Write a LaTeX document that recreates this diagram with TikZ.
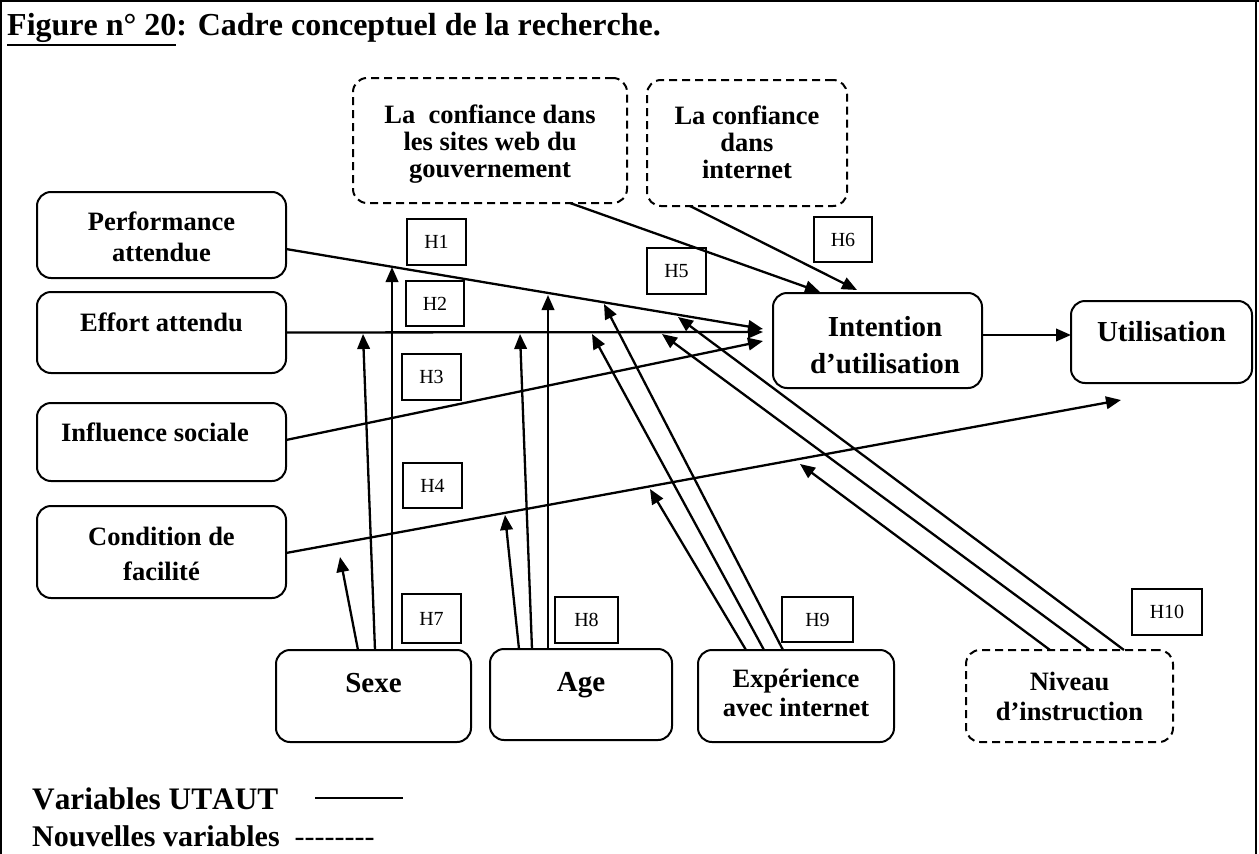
\documentclass[tikz,border=0pt]{standalone}
\usepackage{fontspec}
\setmainfont{Liberation Serif}[Kerning=Off]
\usetikzlibrary{arrows.meta}
\begin{document}
\begin{tikzpicture}[x=1pt,y=-1pt,
  box/.style={draw, line width=2pt, rounded corners=14pt, inner sep=0pt, outer sep=0pt},
  dbox/.style={box, dash pattern=on 8pt off 5pt},
  hyp/.style={draw, line width=1.1pt, inner sep=0pt, outer sep=0pt, font=\fontsize{20}{22}\selectfont},
  lbl/.style={font=\bfseries\fontsize{26.5}{29}\selectfont, align=center, inner sep=0pt},
  big/.style={font=\bfseries\fontsize{29}{37}\selectfont, align=center, inner sep=0pt},
  arr/.style={line width=2.3pt, -{Triangle[length=15pt,width=12.5pt]}},
  frame/.style={line width=2pt}
]
\useasboundingbox (0,0) rectangle (1259,854);

% outer frame
\draw[frame] (0,1) -- (1259,1);
\draw[frame] (1,0) -- (1,854);
\draw[frame] (1256,0) -- (1256,854);

% title
\node[anchor=base west, inner sep=0pt, font=\bfseries\fontsize{32}{36}\selectfont] (title) at (7,35)
  {\rlap{\rule[-11pt]{169pt}{2.5pt}}Figure n° 20: Cadre conceptuel de la recherche.};

% UTAUT variables
\node[box, minimum width=249pt, minimum height=86pt] (perf) at (161.5,235) {};
\node[lbl, text depth=0pt] (perfT) at (161.5,236.5) {Performance\\[2pt]attendue};
\node[box, minimum width=249pt, minimum height=81pt] (effort) at (161.5,332.5) {};
\node[lbl] (effortT) at (161.5,322) {Effort attendu};
\node[box, minimum width=249pt, minimum height=78pt] (influ) at (161.5,442) {};
\node[lbl] (influT) at (155,432) {Influence sociale};
\node[box, minimum width=249pt, minimum height=92pt] (cond) at (161.5,552) {};
\node[lbl] (condT) at (161.5,553.5) {Condition de\\[6pt]facilité};

\node[box, minimum width=195pt, minimum height=92pt] (sexe) at (373.5,696) {};
\node[big] (sexeT) at (373.5,683) {Sexe};
\node[box, minimum width=182pt, minimum height=91pt] (age) at (581,694.5) {};
\node[big] (ageT) at (581,685) {Age};
\node[box, minimum width=196pt, minimum height=92pt] (exp) at (796,696) {};
\node[lbl] (expT) at (796,693) {Expérience\\avec internet};

\node[box, minimum width=209pt, minimum height=95pt] (intent) at (877.5,340.5) {};
\node[big] (intentT) at (885,345) {Intention\\d’utilisation};
\node[box, minimum width=181pt, minimum height=82pt] (util) at (1161.5,342) {};
\node[big] (utilT) at (1161.5,332) {Utilisation};

% new variables
\node[dbox, minimum width=274pt, minimum height=125pt] (csites) at (490,140.5) {};
\node[lbl, font=\bfseries\fontsize{26.5}{27}\selectfont] (csitesT) at (490,144)
  {La\ \ confiance dans\\les sites web du\\gouvernement};
\node[dbox, minimum width=200pt, minimum height=126pt] (cint) at (747,143) {};
\node[lbl, font=\bfseries\fontsize{26.5}{27}\selectfont] (cintT) at (747,142)
  {La confiance\\dans\\internet};
\node[dbox, minimum width=207pt, minimum height=92pt] (niv) at (1069.5,696) {};
\node[lbl, font=\bfseries\fontsize{26.5}{30}\selectfont] (nivT) at (1069.5,696) {Niveau\\d’instruction};

% hypotheses
\node[hyp, minimum width=59pt, minimum height=46pt] (h1) at (436.5,242) {H1};
\node[hyp, minimum width=58pt, minimum height=45pt] (h2) at (435,303.5) {H2};
\node[hyp, minimum width=59pt, minimum height=46pt] (h3) at (431.5,377) {H3};
\node[hyp, minimum width=59pt, minimum height=45pt] (h4) at (432.5,485.5) {H4};
\node[hyp, minimum width=59pt, minimum height=46pt] (h5) at (676.5,271) {H5};
\node[hyp, minimum width=58pt, minimum height=45pt] (h6) at (843,239.5) {H6};
\node[hyp, minimum width=59pt, minimum height=49pt] (h7) at (431.5,618.5) {H7};
\node[hyp, minimum width=63pt, minimum height=46pt] (h8) at (586.5,620) {H8};
\node[hyp, minimum width=71pt, minimum height=45pt] (h9) at (817.5,619.5) {H9};
\node[hyp, minimum width=70pt, minimum height=46pt] (h10) at (1167,612) {H10};

% arrow end points
\coordinate (tPerf) at (763,329);
\coordinate (tEff) at (763,332);
\coordinate (tInf) at (763,341);
\coordinate (tCs) at (820,292);
\coordinate (tCi) at (857,290);
\coordinate (tCond) at (1121,400);
\coordinate (s1) at (340,557);
\coordinate (s2) at (363,334);
\coordinate (s3) at (392,267);
\coordinate (a1) at (505,515);
\coordinate (a2) at (520,334);
\coordinate (a3) at (548,295);
\coordinate (e1) at (650,489);
\coordinate (e2) at (592,334);
\coordinate (e3) at (604,304);
\coordinate (n1) at (800,464);
\coordinate (n2) at (662,334);
\coordinate (n3) at (678,317);

% direct effects
\draw[arr] ([yshift=-14pt]perf.east) -- (tPerf);
\draw[arr] (effort.east) -- (tEff);
\draw[arr] ([yshift=2pt]influ.east) -- (tInf);
\draw[arr] ([yshift=-1pt]cond.east) -- (tCond);
\draw[arr] ([xshift=80pt]csites.south) -- (tCs);
\draw[arr] ([xshift=-57pt]cint.south) -- (tCi);
\draw[arr] ([yshift=5.5pt]intent.east) -- ([yshift=5.5pt]intent.east -| util.west);

% moderating effects
\draw[arr] ([xshift=-15.5pt]sexe.north) -- (s1);
\draw[arr] ([xshift=1.5pt]sexe.north) -- (s2);
\draw[arr] ([xshift=18.5pt]sexe.north) -- (s3);
\draw[arr] ([xshift=-62pt]age.north) -- (a1);
\draw[arr] ([xshift=-49pt]age.north) -- (a2);
\draw[arr] ([xshift=-33pt]age.north) -- (a3);
\draw[arr] ([xshift=-50pt]exp.north) -- (e1);
\draw[arr] ([xshift=-32pt]exp.north) -- (e2);
\draw[arr] ([xshift=-13pt]exp.north) -- (e3);
\draw[arr] ([xshift=-19.5pt]niv.north) -- (n1);
\draw[arr] ([xshift=20.5pt]niv.north) -- (n2);
\draw[arr] ([xshift=54.5pt]niv.north) -- (n3);

% legend
\node[anchor=base west, inner sep=0pt, font=\bfseries\fontsize{31.3}{34}\selectfont] (legA) at (32,809) {Variables UTAUT};
\draw[line width=1.6pt] (315,798) -- (403,798);
\node[anchor=base west, inner sep=0pt, font=\bfseries\fontsize{30}{34}\selectfont] (legB) at (32,846)
  {Nouvelles variables\ \ {\mdseries{-}{-}{-}{-}{-}{-}{-}{-}}};
\end{tikzpicture}
\end{document}
